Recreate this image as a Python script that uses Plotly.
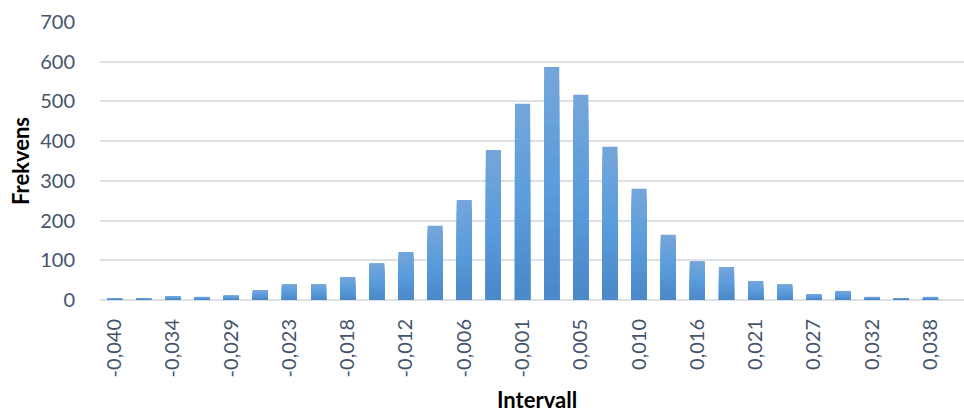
import plotly.graph_objects as go

# Histogram bins (interval midpoints) and their frequencies
intervall = [
    "-0,040", "-0,037", "-0,034", "-0,032", "-0,029", "-0,026", "-0,023", "-0,021",
    "-0,018", "-0,015", "-0,012", "-0,009", "-0,006", "-0,004", "-0,001", "0,002",
    "0,005", "0,007", "0,010", "0,013", "0,016", "0,018", "0,021", "0,024",
    "0,027", "0,029", "0,032", "0,035", "0,038",
]
frekvens = [
    3, 3, 10, 8, 12, 25, 40, 40, 58, 93, 121, 187, 252, 378, 494, 587,
    517, 386, 280, 164, 98, 83, 48, 40, 15, 23, 8, 5, 8,
]
# every second bin is labelled on the axis
tick_labels = intervall[::2]
y_ticks = [0, 100, 200, 300, 400, 500, 600, 700]

TEXT = "#44546a"
GRID = "#dde1e6"
FONT = "Lato"

# vertical gradient of the bars: bottom -> middle -> top
stops = [(0.0, (74, 136, 199)), (0.5, (90, 156, 220)), (1.0, (118, 166, 218))]


def grad_color(f):
    for (f0, c0), (f1, c1) in zip(stops[:-1], stops[1:]):
        if f0 <= f <= f1:
            t = (f - f0) / (f1 - f0)
            r, g, b = (round(a + (b_ - a) * t) for a, b_ in zip(c0, c1))
            return f"rgb({r},{g},{b})"
    return f"rgb{stops[-1][1]}"


fig = go.Figure()
layers = 16
for k in range(layers, 0, -1):
    frac = k / layers
    mid = (k - 0.5) / layers
    fig.add_trace(
        go.Bar(
            x=intervall,
            y=[v * frac for v in frekvens],
            marker=dict(color=grad_color(mid), line=dict(width=0)),
            showlegend=False,
            hoverinfo="skip" if k < layers else None,
            customdata=frekvens,
            hovertemplate="%{x}: %{customdata}<extra></extra>",
        )
    )

fig.update_layout(
    width=964,
    height=412,
    margin=dict(l=100, r=0, t=22, b=112),
    paper_bgcolor="white",
    plot_bgcolor="white",
    barmode="overlay",
    bargap=0.48,
    font=dict(family=FONT, color=TEXT, size=20),
    xaxis=dict(
        type="category",
        categoryorder="array",
        categoryarray=intervall,
        range=[-0.5, 29.15],
        tickmode="array",
        tickvals=tick_labels,
        ticktext=tick_labels,
        tickangle=-90,
        ticks="outside",
        ticklen=10,
        tickcolor="rgba(0,0,0,0)",
        showgrid=False,
        showline=False,
        tickfont=dict(family=FONT, size=20, color=TEXT),
    ),
    yaxis=dict(
        range=[0, 700],
        tickmode="array",
        tickvals=y_ticks,
        ticks="outside",
        ticklen=20,
        tickcolor="rgba(0,0,0,0)",
        showgrid=True,
        gridcolor=GRID,
        gridwidth=1.5,
        zeroline=True,
        zerolinecolor=GRID,
        zerolinewidth=1.5,
        tickfont=dict(family=FONT, size=20, color=TEXT),
    ),
    annotations=[
        dict(
            text="<b>Frekvens</b>",
            xref="paper", yref="paper",
            x=-80 / 864, y=0.5,
            xanchor="center", yanchor="middle",
            textangle=-90, showarrow=False,
            font=dict(family=FONT, size=22, color="black"),
        ),
        dict(
            text="<b>Intervall</b>",
            xref="paper", yref="paper",
            x=437 / 864, y=-99 / 278,
            xanchor="center", yanchor="middle",
            showarrow=False,
            font=dict(family=FONT, size=22, color="black"),
        ),
    ],
)

fig.write_html("out.html")
